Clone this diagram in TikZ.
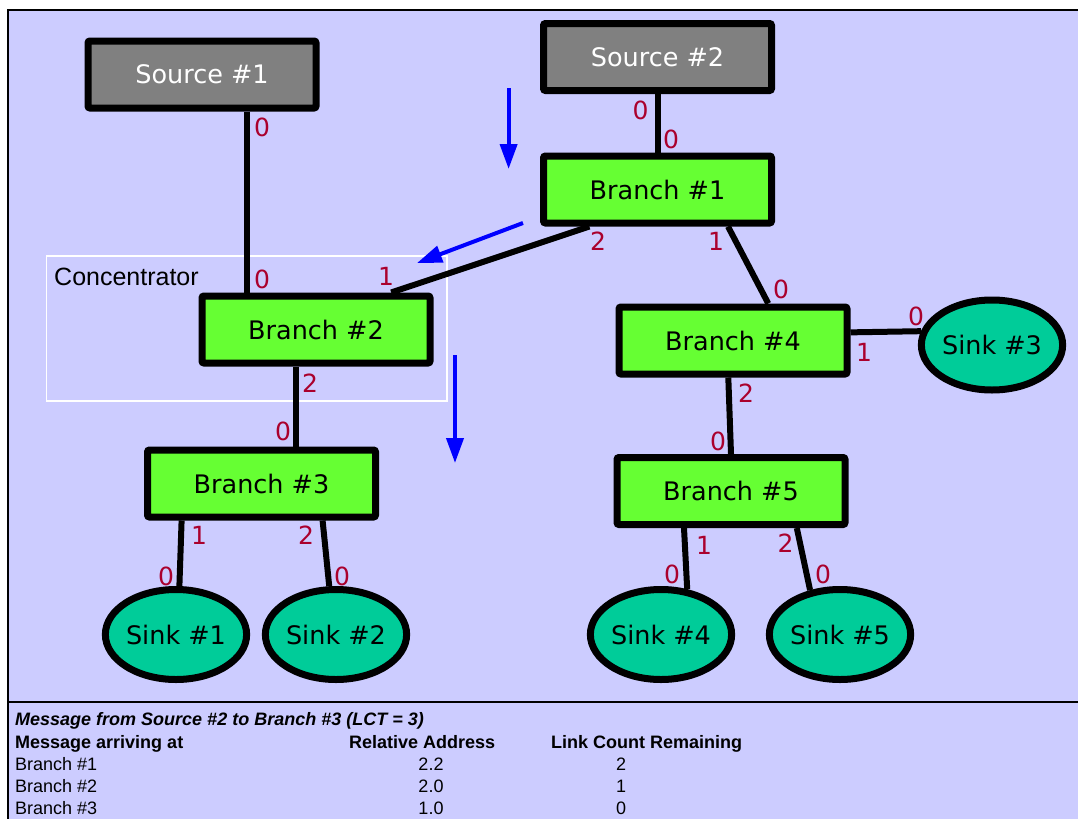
\documentclass[tikz,border=0pt]{standalone}
\usepackage{fontspec}
\setmainfont{DejaVu Sans}
\newfontfamily\arialf{Liberation Sans}
\usetikzlibrary{calc,shapes.geometric,arrows.meta}
\definecolor{lav}{HTML}{CCCCFF}
\definecolor{srcgray}{HTML}{808080}
\definecolor{brgreen}{HTML}{66FF33}
\definecolor{sinkteal}{HTML}{00CC99}
\definecolor{portred}{RGB}{170,0,45}
\definecolor{flowblue}{HTML}{0000FF}
\begin{document}
\begin{tikzpicture}[x=1pt,y=-1pt,
  srcbox/.style={draw=black,line width=7pt,fill=srcgray,rounded corners=2pt,minimum width=228pt,minimum height=67pt,inner sep=0pt,text=white,font=\fontsize{25.5}{30}\selectfont},
  brbox/.style={draw=black,line width=7pt,fill=brgreen,rounded corners=2pt,minimum width=228pt,minimum height=67pt,inner sep=0pt,text=black,font=\fontsize{25.5}{30}\selectfont},
  sinkell/.style={ellipse,draw=black,line width=7pt,fill=sinkteal,minimum width=132pt,minimum height=90pt,inner sep=0pt,font=\fontsize{25.5}{30}\selectfont},
  link/.style={draw=black,line width=6pt},
  port/.style={text=portred,inner sep=0pt,font=\fontsize{25}{30}\selectfont},
  flow/.style={draw=flowblue,line width=4pt,-{Triangle[length=25pt,width=17pt]}},
  tabtxt/.style={inner sep=0pt,anchor=base west,font=\arialf\fontsize{18}{22}\selectfont},
  tabnum/.style={inner sep=0pt,anchor=base,font=\arialf\fontsize{18}{22}\selectfont}
]
\useasboundingbox (0,0) rectangle (1078,819);
\fill[white] (0,0) rectangle (1078,819);
\fill[lav] (8,10) rectangle (1078,819);
\draw[line width=2pt] (1078,10) -- (8,10) -- (8,819);
\draw[line width=2pt] (8,702) -- (1078,702);

% concentrator frame
\draw[white,line width=1.5pt] (46.5,256) rectangle (447,401);
\node[anchor=west,inner sep=0pt,font=\arialf\fontsize{25}{30}\selectfont] (conc) at (54,277) {Concentrator};

% nodes
\node[srcbox] (src1) at (202,74.5) {Source \#1};
\node[srcbox] (src2) at (657.5,57) {Source \#2};
\node[brbox] (b1) at (657.5,189.5) {Branch \#1};
\node[brbox] (b2) at (316,329.5) {Branch \#2};
\node[brbox] (b3) at (261.5,483.5) {Branch \#3};
\node[brbox] (b4) at (733,340.5) {Branch \#4};
\node[brbox] (b5) at (731,491) {Branch \#5};
\node[sinkell] (s1) at (176,634.5) {Sink \#1};
\node[sinkell] (s2) at (336,634.5) {Sink \#2};
\node[sinkell] (s3) at (992,345) {Sink \#3};
\node[sinkell] (s4) at (661,634.5) {Sink \#4};
\node[sinkell] (s5) at (840,634.5) {Sink \#5};

% port points
\coordinate (b2p0) at ($(b2.north west)!0.205!(b2.north east)$);
\coordinate (b2p2) at ($(b2.south west)!0.415!(b2.south east)$);
\coordinate (b4p2) at ($(b4.south west)!0.48!(b4.south east)$);

% links
\draw[link] (b2p0 |- src1.south) -- (b2p0);
\draw[link] (src2.south) -- (b1.north);
\draw[link] ($(b1.south west)!0.21!(b1.south east)$) -- ($(b2.north west)!0.82!(b2.north east)$);
\draw[link] ($(b1.south west)!0.80!(b1.south east)$) -- ($(b4.north west)!0.65!(b4.north east)$);
\draw[link] ($(b4.north east)!0.39!(b4.south east)$) -- (s3.169);
\draw[link] (b4p2) -- ($(b5.north west)!0.50!(b5.north east)$);
\draw[link] (b2p2) -- (b2p2 |- b3.north);
\draw[link] ($(b3.south west)!0.16!(b3.south east)$) -- (s1.86);
\draw[link] ($(b3.south west)!0.76!(b3.south east)$) -- (s2.98);
\draw[link] ($(b5.south west)!0.30!(b5.south east)$) -- (s4.60);
\draw[link] ($(b5.south west)!0.78!(b5.south east)$) -- (s5.124);

% port labels
\node[port] (pa) at (262,127) {0};
\node[port] (pb) at (262,279) {0};
\node[port] (pc) at (386,276) {1};
\node[port] (pd) at (640.5,110) {0};
\node[port] (pe) at (671,139) {0};
\node[port] (pf) at (598,241) {2};
\node[port] (pg) at (716,241) {1};
\node[port] (ph) at (781,289) {0};
\node[port] (pi) at (916,316) {0};
\node[port] (pj) at (864,352) {1};
\node[port] (pk) at (746,393) {2};
\node[port] (pl) at (718,441) {0};
\node[port] (pm) at (310,383) {2};
\node[port] (pn) at (283,431) {0};
\node[port] (po) at (199,535) {1};
\node[port] (pp) at (306,535) {2};
\node[port] (pq) at (166,576) {0};
\node[port] (pr) at (342,576) {0};
\node[port] (ps) at (704,545) {1};
\node[port] (pt) at (672,574) {0};
\node[port] (pu) at (785.5,543) {2};
\node[port] (pv) at (823,574) {0};

% flow arrows
\coordinate (fa1) at (508.6,88);
\coordinate (fa2) at (508.6,169);
\coordinate (fb1) at (523,223);
\coordinate (fb2) at (417,263);
\coordinate (fc1) at (455,355);
\coordinate (fc2) at (455,463);
\draw[flow] (fa1) -- (fa2);
\draw[flow] (fb1) -- (fb2);
\draw[flow] (fc1) -- (fc2);

% table
\node[tabtxt,font=\arialf\bfseries\itshape\fontsize{18}{22}\selectfont] (t0) at (15,725.5) {Message from Source \#2 to Branch \#3 (LCT = 3)};
\node[tabtxt,font=\arialf\bfseries\fontsize{18}{22}\selectfont] (h1) at (15,748) {Message arriving at};
\node[tabtxt,font=\arialf\bfseries\fontsize{18}{22}\selectfont] (h2) at (349,748) {Relative Address};
\node[tabtxt,font=\arialf\bfseries\fontsize{18}{22}\selectfont] (h3) at (551,748) {Link Count Remaining};
\node[tabtxt] (r1a) at (15,770) {Branch \#1};
\node[tabnum] (r1b) at (431,770) {2.2};
\node[tabnum] (r1c) at (621,770) {2};
\node[tabtxt] (r2a) at (15,792) {Branch \#2};
\node[tabnum] (r2b) at (431,792) {2.0};
\node[tabnum] (r2c) at (621,792) {1};
\node[tabtxt] (r3a) at (15,814) {Branch \#3};
\node[tabnum] (r3b) at (431,814) {1.0};
\node[tabnum] (r3c) at (621,814) {0};
\end{tikzpicture}
\end{document}
